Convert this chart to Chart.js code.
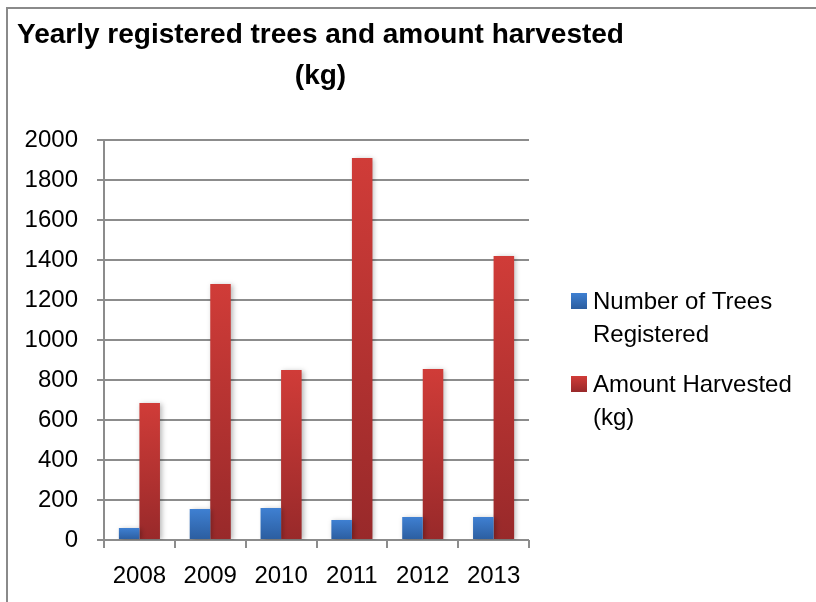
<!DOCTYPE html>
<html>
<head>
<meta charset="utf-8">
<script src="https://cdn.jsdelivr.net/npm/chart.js@4.4.0/dist/chart.umd.min.js"></script>
<style>
  html, body { margin: 0; padding: 0; background: #fff; }
  #wrap { width: 816px; height: 602px; position: relative; }
</style>
</head>
<body>
<div id="wrap"><canvas id="grafico"></canvas></div>
<script>
// datos del grafico
const years = ['2008', '2009', '2010', '2011', '2012', '2013'];
const treesRegistered = [60, 155, 160, 100, 115, 115];
const amountHarvested = [685, 1280, 850, 1910, 855, 1420];
const yMax = 2000;
const yStep = 200;
const titleLines = ['Yearly registered trees and amount harvested', '(kg)'];
const legendLines = [['Number of Trees', 'Registered'], ['Amount Harvested', '(kg)']];

const FONT = "'Liberation Sans', Arial, sans-serif";
const colores = [
  { top: '#3f80d2', bottom: '#2b5d9f' },
  { top: '#d03c38', bottom: '#98292a' },
];

// degradado por barra, de arriba (claro) a abajo (oscuro)
function degradado(idx) {
  return (context) => {
    const chart = context.chart;
    const { ctx, chartArea, scales } = chart;
    if (!chartArea || context.parsed == null) return colores[idx].top;
    const yTop = scales.y.getPixelForValue(context.parsed.y);
    const yBase = scales.y.getPixelForValue(0);
    if (!isFinite(yTop) || yBase - yTop < 1) return colores[idx].top;
    const g = ctx.createLinearGradient(0, yTop, 0, yBase);
    g.addColorStop(0, colores[idx].top);
    g.addColorStop(1, colores[idx].bottom);
    return g;
  };
}

// marco gris alrededor del grafico
const marco = {
  id: 'marco',
  beforeDraw(chart) {
    const ctx = chart.ctx;
    ctx.save();
    ctx.strokeStyle = '#8a8a8a';
    ctx.lineWidth = 2;
    ctx.beginPath();
    ctx.moveTo(7, chart.height + 5);
    ctx.lineTo(7, 8);
    ctx.lineTo(chart.width + 5, 8);
    ctx.stroke();
    ctx.restore();
  },
};

// titulo centrado sobre el area de barras, sin comprimir
const titulo = {
  id: 'titulo',
  afterDraw(chart) {
    const ctx = chart.ctx;
    const cx = (chart.chartArea.left + chart.chartArea.right) / 2 + 4;
    ctx.save();
    ctx.font = 'bold 28px ' + FONT;
    ctx.fillStyle = '#000';
    ctx.textAlign = 'center';
    ctx.textBaseline = 'middle';
    titleLines.forEach((txt, i) => {
      ctx.fillText(txt, cx, 35 + i * 41);
    });
    ctx.restore();
  },
};

// sombra ligera en las barras
const sombra = {
  id: 'sombra',
  beforeDatasetsDraw(chart) {
    const ctx = chart.ctx;
    ctx.save();
    ctx.shadowColor = 'rgba(0,0,0,0.28)';
    ctx.shadowBlur = 5;
    ctx.shadowOffsetX = 2;
    ctx.shadowOffsetY = 1;
  },
  afterDatasetsDraw(chart) {
    chart.ctx.restore();
  },
};

// leyenda a la derecha con texto en dos lineas
const leyenda = {
  id: 'leyenda',
  afterDraw(chart) {
    const ctx = chart.ctx;
    const x0 = chart.chartArea.right + 42;
    const tops = [293, 376];
    ctx.save();
    ctx.font = '24px ' + FONT;
    ctx.textBaseline = 'middle';
    ctx.textAlign = 'left';
    legendLines.forEach((lineas, i) => {
      const y = tops[i];
      const g = ctx.createLinearGradient(0, y, 0, y + 16);
      g.addColorStop(0, colores[i].top);
      g.addColorStop(1, colores[i].bottom);
      ctx.fillStyle = g;
      ctx.fillRect(x0, y, 16, 16);
      ctx.fillStyle = '#000';
      lineas.forEach((txt, j) => {
        ctx.fillText(txt, x0 + 22, y + 9 + j * 33);
      });
    });
    ctx.restore();
  },
};

new Chart(document.getElementById('grafico'), {
  type: 'bar',
  data: {
    labels: years,
    datasets: [
      {
        label: legendLines[0].join(' '),
        data: treesRegistered,
        backgroundColor: degradado(0),
        categoryPercentage: 0.58,
        barPercentage: 1,
      },
      {
        label: legendLines[1].join(' '),
        data: amountHarvested,
        backgroundColor: degradado(1),
        categoryPercentage: 0.58,
        barPercentage: 1,
      },
    ],
  },
  options: {
    responsive: true,
    maintainAspectRatio: false,
    animation: false,
    layout: { padding: { left: 0, right: 287, top: 140, bottom: 0 } },
    plugins: {
      legend: { display: false },
      tooltip: { enabled: false },
      title: { display: false },
    },
    scales: {
      x: {
        grid: {
          offset: true,
          drawOnChartArea: false,
          drawTicks: true,
          tickLength: 8,
          color: '#8c8c8c',
          lineWidth: 2,
        },
        border: { display: false },
        ticks: {
          color: '#000',
          font: { family: FONT, size: 24 },
          padding: 14,
          maxRotation: 0,
        },
        afterFit(scale) { scale.height = 62; },
      },
      y: {
        min: 0,
        max: yMax,
        ticks: {
          stepSize: yStep,
          color: '#000',
          font: { family: FONT, size: 24 },
          padding: 19,
          callback: (v) => String(v),
        },
        grid: {
          color: '#8c8c8c',
          lineWidth: 2,
          tickLength: 7,
        },
        border: { display: true, color: '#8c8c8c', width: 2 },
        afterFit(scale) { scale.width = 104; },
      },
    },
  },
  plugins: [marco, titulo, sombra, leyenda],
});
</script>
</body>
</html>
